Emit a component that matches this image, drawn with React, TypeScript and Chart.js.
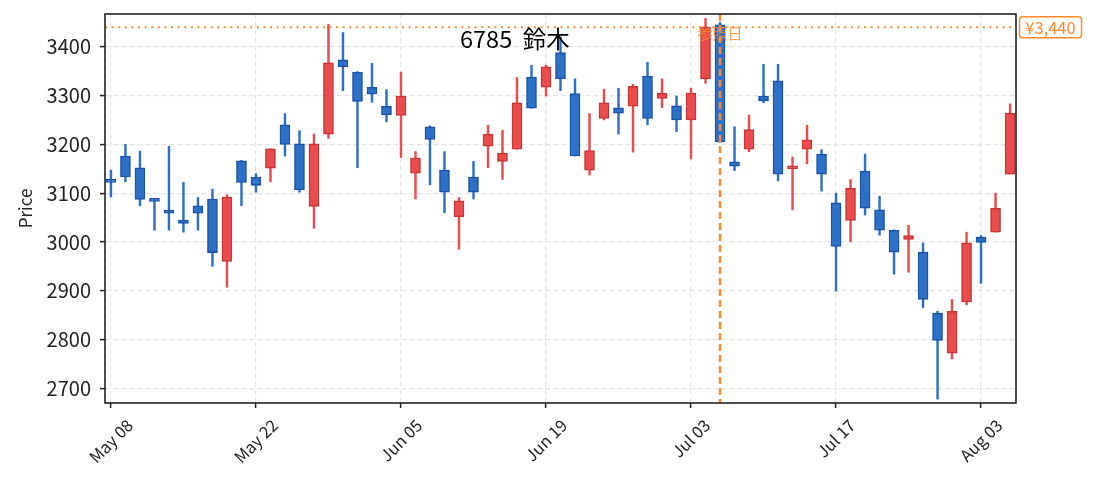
import { useEffect, useRef } from "react"
import { Chart, registerables } from "chart.js"

Chart.register(...registerables)

// trading days, 2015
const DATES = [
  "May 08", "May 11", "May 12", "May 13", "May 14", "May 15", "May 18", "May 19", "May 20", "May 21",
  "May 22", "May 25", "May 26", "May 27", "May 28", "May 29", "Jun 01", "Jun 02", "Jun 03", "Jun 04",
  "Jun 05", "Jun 08", "Jun 09", "Jun 10", "Jun 11", "Jun 12", "Jun 15", "Jun 16", "Jun 17", "Jun 18",
  "Jun 19", "Jun 22", "Jun 23", "Jun 24", "Jun 25", "Jun 26", "Jun 29", "Jun 30", "Jul 01", "Jul 02",
  "Jul 03", "Jul 06", "Jul 07", "Jul 08", "Jul 09", "Jul 10", "Jul 13", "Jul 14", "Jul 15", "Jul 16",
  "Jul 17", "Jul 21", "Jul 22", "Jul 23", "Jul 24", "Jul 27", "Jul 28", "Jul 29", "Jul 30", "Jul 31",
  "Aug 03", "Aug 04", "Aug 05",
]

const OPEN = [
  3124, 3176, 3152, 3085, 3063, 3045, 3074, 3088, 2960, 3166,
  3133, 3151, 3240, 3201, 3073, 3221, 3373, 3348, 3317, 3278,
  3259, 3141, 3236, 3147, 3052, 3133, 3196, 3165, 3190, 3338,
  3317, 3388, 3304, 3147, 3253, 3275, 3278, 3340, 3294, 3279,
  3250, 3334, 3445, 3164, 3190, 3299, 3330, 3150, 3190, 3180,
  3080, 3044, 3145, 3066, 3024, 3005, 2979, 2854, 2772, 2877,
  3010, 3020, 3139,
]
const HIGH = [
  3147, 3200, 3186, 3087, 3196, 3122, 3091, 3108, 3097, 3167,
  3140, 3191, 3263, 3228, 3221, 3446, 3429, 3349, 3366, 3312,
  3348, 3185, 3238, 3185, 3091, 3165, 3239, 3229, 3337, 3362,
  3362, 3420, 3334, 3263, 3313, 3315, 3323, 3368, 3334, 3299,
  3315, 3458, 3450, 3236, 3260, 3364, 3364, 3174, 3239, 3189,
  3100, 3128, 3180, 3094, 3025, 3034, 2998, 2858, 2882, 3020,
  3013, 3100, 3283,
]
const LOW = [
  3092, 3123, 3074, 3024, 3024, 3020, 3024, 2950, 2907, 3074,
  3102, 3123, 3176, 3102, 3028, 3212, 3310, 3152, 3286, 3246,
  3173, 3088, 3117, 3060, 2985, 3088, 3152, 3128, 3190, 3274,
  3299, 3310, 3176, 3137, 3250, 3221, 3184, 3240, 3275, 3226,
  3170, 3325, 3204, 3146, 3185, 3285, 3125, 3066, 3160, 3104,
  2899, 3000, 3055, 3014, 2934, 2938, 2865, 2678, 2760, 2871,
  2915, 3020, 3139,
]
const CLOSE = [
  3122, 3133, 3087, 3083, 3059, 3038, 3059, 2978, 3092, 3122,
  3116, 3191, 3200, 3107, 3201, 3367, 3359, 3288, 3303, 3260,
  3299, 3172, 3210, 3102, 3084, 3102, 3221, 3182, 3285, 3274,
  3359, 3334, 3176, 3187, 3285, 3264, 3319, 3253, 3305, 3250,
  3305, 3440, 3205, 3155, 3230, 3289, 3139, 3156, 3209, 3139,
  2991, 3110, 3069, 3024, 2979, 3013, 2882, 2798, 2858, 2998,
  2999, 3069, 3264,
]

const X_TICKS = [0, 10, 20, 30, 40, 50, 60]
const Y_TICKS = [2700, 2800, 2900, 3000, 3100, 3200, 3300, 3400]

const TITLE = "6785  鈴木"
const REF_INDEX = 42
const REF_LABEL = "参照日"
const REF_PRICE = 3440

const UP_FILL = "#e84c4c"
const UP_EDGE = "#c93535"
const DOWN_FILL = "#2d71c6"
const DOWN_EDGE = "#1c53a6"
const ORANGE = "#ff8a2b"
const INK = "#222222"
const GRID = "#e4e4e4"
const FONT = '"Noto Sans CJK JP", "Noto Sans", sans-serif'

const isUp = (i: number) => CLOSE[i] >= OPEN[i]

const overlay = {
  id: "overlay",
  beforeDatasetsDraw(chart: any) {
    const { ctx, chartArea: a, scales } = chart
    const y = scales.y.getPixelForValue(REF_PRICE)
    ctx.save()
    ctx.strokeStyle = ORANGE
    ctx.lineWidth = 2
    ctx.setLineDash([2, 4.6])
    ctx.beginPath()
    ctx.moveTo(a.left, y)
    ctx.lineTo(a.right, y)
    ctx.stroke()
    ctx.restore()
  },
  afterDatasetsDraw(chart: any) {
    const { ctx, chartArea: a, scales } = chart
    const x = scales.x.getPixelForValue(REF_INDEX)
    ctx.save()
    ctx.strokeStyle = ORANGE
    ctx.lineWidth = 2.5
    ctx.setLineDash([7, 4])
    ctx.beginPath()
    ctx.moveTo(x, a.top)
    ctx.lineTo(x, a.bottom)
    ctx.stroke()

    ctx.globalAlpha = 0.8
    ctx.fillStyle = ORANGE
    ctx.font = `15px ${FONT}`
    ctx.textAlign = "center"
    ctx.textBaseline = "middle"
    ctx.fillText(REF_LABEL, x, a.top + 19)
    ctx.globalAlpha = 1

    ctx.fillStyle = "#000"
    ctx.font = `23.5px ${FONT}`
    ctx.textAlign = "left"
    ctx.textBaseline = "alphabetic"
    ctx.fillText(TITLE, 460, a.top + 34)
    ctx.restore()
  },
  afterDraw(chart: any) {
    const { ctx, chartArea: a, scales } = chart
    ctx.save()
    // frame
    ctx.strokeStyle = INK
    ctx.lineWidth = 1.6
    ctx.strokeRect(a.left, a.top, a.right - a.left, a.bottom - a.top)

    // price tag
    const y = scales.y.getPixelForValue(REF_PRICE)
    const bx = a.right + 3.5
    const bw = 62
    const bh = 21
    ctx.fillStyle = "#fff"
    ctx.strokeStyle = ORANGE
    ctx.lineWidth = 1.5
    ctx.beginPath()
    ctx.roundRect(bx, y - bh / 2, bw, bh, 3)
    ctx.fill()
    ctx.stroke()
    ctx.fillStyle = ORANGE
    ctx.font = `16.5px ${FONT}`
    ctx.textAlign = "center"
    ctx.textBaseline = "middle"
    ctx.fillText("¥" + REF_PRICE.toLocaleString("en-US"), bx + bw / 2, y + 1)

    // rotated date labels, centred under the ticks
    ctx.fillStyle = INK
    ctx.font = `16.5px ${FONT}`
    const h = 12
    X_TICKS.forEach((i) => {
      const label = DATES[i]
      const w = ctx.measureText(label).width
      const cx = scales.x.getPixelForValue(i)
      const cy = a.bottom + 15 + (w + h) / (2 * Math.SQRT2)
      ctx.save()
      ctx.translate(cx, cy)
      ctx.rotate(-Math.PI / 4)
      ctx.fillText(label, 0, 0)
      ctx.restore()
    })
    ctx.restore()
  },
}

export default function App() {
  const ref = useRef<HTMLCanvasElement>(null)
  const chartRef = useRef<Chart | null>(null)

  useEffect(() => {
    if (!ref.current) return
    document.body.style.margin = "0"

    const idx = DATES.map((_, i) => i)
    const bodies = idx.map((i) => ({ x: i, y: [OPEN[i], CLOSE[i]] }))
    const wicks = idx.map((i) => ({ x: i, y: [LOW[i], HIGH[i]] }))

    if (chartRef.current) chartRef.current.destroy()

    chartRef.current = new Chart(ref.current, {
      type: "bar",
      data: {
        datasets: [
          {
            data: bodies as any,
            order: 0,
            grouped: false,
            barThickness: 10,
            minBarLength: 3,
            borderWidth: 1.5,
            borderSkipped: false,
            backgroundColor: idx.map((i) => (isUp(i) ? UP_FILL : DOWN_FILL)),
            borderColor: idx.map((i) => (isUp(i) ? UP_EDGE : DOWN_EDGE)),
          },
          {
            data: wicks as any,
            order: 1,
            grouped: false,
            barThickness: 1.8,
            borderWidth: 0,
            backgroundColor: idx.map((i) => (isUp(i) ? UP_FILL : DOWN_FILL)),
          },
        ],
      },
      options: {
        responsive: false,
        animation: false,
        layout: { padding: { top: 14, right: 79, left: 0, bottom: 0 } },
        plugins: {
          legend: { display: false },
          tooltip: { enabled: false },
        },
        scales: {
          x: {
            type: "linear",
            offset: false,
            min: -0.41,
            max: 62.41,
            afterBuildTicks: (s: any) => { s.ticks = X_TICKS.map((v) => ({ value: v })) },
            afterFit: (s: any) => {
              s.height = 89
              s.paddingLeft = 0
              s.paddingRight = 0
            },
            ticks: { display: false },
            grid: {
              offset: false,
              color: GRID,
              lineWidth: 1.2,
              tickLength: 5,
              tickColor: INK,
              tickWidth: 1.5,
            },
            border: { display: false, dash: [5, 3] },
          },
          y: {
            min: 2670,
            max: 3467,
            afterBuildTicks: (s: any) => { s.ticks = Y_TICKS.map((v) => ({ value: v })) },
            afterFit: (s: any) => {
              s.width = 105
              s.paddingTop = 0
              s.paddingBottom = 0
            },
            ticks: {
              color: INK,
              padding: 9,
              font: { family: FONT, size: 20 },
              callback: (v: any) => String(v),
            },
            title: {
              display: true,
              text: "Price",
              color: INK,
              font: { family: FONT, size: 17 },
              padding: { top: 15, bottom: 0 },
            },
            grid: {
              color: GRID,
              lineWidth: 1.2,
              tickLength: 5,
              tickColor: INK,
              tickWidth: 1.5,
            },
            border: { display: false, dash: [5, 3] },
          },
        },
      },
      plugins: [overlay],
    })

    return () => { chartRef.current?.destroy() }
  }, [])

  return <canvas ref={ref} width={1095} height={492} />
}
